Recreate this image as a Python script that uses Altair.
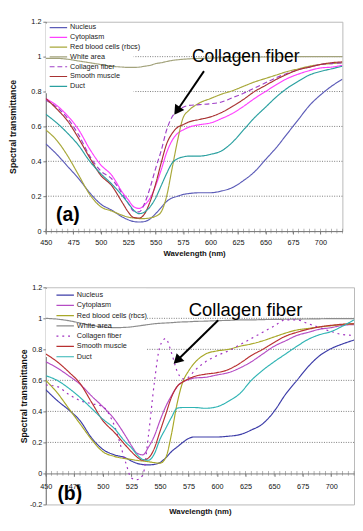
import math
import altair as alt
import pandas as pd

# ---------------- data ----------------
WL = [450, 460, 470, 480, 490, 500, 510, 520, 525, 530, 535, 540, 545, 550, 555,
      560, 565, 570, 575, 580, 590, 600, 610, 620, 630, 640, 650, 660, 670, 680,
      690, 700, 710, 720]

SERIES = ["Nucleus", "Cytoplasm", "Red blood cells (rbcs)", "White area",
          "Collagen fiber", "Smooth muscle", "Duct"]

# panel (a)
A_NUC = [0.50, 0.44, 0.37, 0.30, 0.22, 0.155, 0.12, 0.08,
         0.065, 0.055, 0.052, 0.055, 0.07, 0.10, 0.135, 0.17, 0.19, 0.20, 0.21, 0.215,
         0.22, 0.22, 0.23, 0.25, 0.29, 0.34, 0.41, 0.48, 0.56, 0.64, 0.72, 0.78, 0.83, 0.87]
A_CYT = [0.76, 0.72, 0.66, 0.58, 0.47, 0.38, 0.32, 0.22,
         0.18, 0.14, 0.13, 0.15, 0.19, 0.26, 0.35, 0.45, 0.52, 0.56, 0.58, 0.595,
         0.61, 0.62, 0.645, 0.675, 0.715, 0.76, 0.80, 0.84, 0.875, 0.90, 0.92, 0.935, 0.94, 0.95]
A_RBC = [0.58, 0.52, 0.43, 0.32, 0.21, 0.14, 0.115, 0.09,
         0.08, 0.075, 0.072, 0.072, 0.076, 0.085, 0.11, 0.20, 0.36, 0.52, 0.65, 0.69,
         0.735, 0.76, 0.785, 0.805, 0.83, 0.855, 0.875, 0.895, 0.915, 0.93, 0.945, 0.955, 0.96, 0.965]
A_WHITE = [0.99, 0.99, 0.985, 0.975, 0.965, 0.955, 0.945, 0.94,
           0.938, 0.938, 0.94, 0.945, 0.95, 0.96, 0.965, 0.972, 0.978, 0.982, 0.985, 0.987,
           0.99, 0.992, 0.994, 0.995, 0.996, 0.997, 0.998, 0.998, 0.999, 1.0, 1.0, 1.0, 1.0, 1.0]
A_COL = [0.75, 0.71, 0.645, 0.55, 0.43, 0.345, 0.30, 0.21,
         0.16, 0.115, 0.11, 0.16, 0.25, 0.36, 0.46, 0.58, 0.655, 0.69, 0.71, 0.72,
         0.725, 0.73, 0.74, 0.765, 0.79, 0.82, 0.85, 0.88, 0.905, 0.925, 0.94, 0.955, 0.96, 0.965]
A_SMO = [0.76, 0.70, 0.63, 0.53, 0.42, 0.32, 0.26, 0.16,
         0.11, 0.078, 0.075, 0.10, 0.17, 0.27, 0.39, 0.50, 0.56, 0.595, 0.61, 0.625,
         0.64, 0.655, 0.68, 0.715, 0.755, 0.80, 0.835, 0.87, 0.90, 0.925, 0.94, 0.955, 0.965, 0.97]
A_DUCT = [0.67, 0.62, 0.56, 0.49, 0.40, 0.33, 0.27, 0.20,
          0.16, 0.12, 0.10, 0.11, 0.14, 0.19, 0.26, 0.33, 0.39, 0.415, 0.425, 0.43,
          0.43, 0.44, 0.46, 0.51, 0.58, 0.65, 0.71, 0.77, 0.82, 0.86, 0.895, 0.915, 0.93, 0.945]

# panel (b)
B_NUC = [0.54, 0.47, 0.41, 0.34, 0.23, 0.155, 0.12, 0.10,
         0.08, 0.065, 0.057, 0.055, 0.058, 0.07, 0.10, 0.14, 0.17, 0.20, 0.225, 0.235,
         0.235, 0.235, 0.24, 0.25, 0.28, 0.32, 0.40, 0.51, 0.60, 0.69, 0.76, 0.805, 0.835, 0.86]
B_CYT = [0.72, 0.68, 0.63, 0.575, 0.50, 0.43, 0.35, 0.24,
         0.18, 0.13, 0.12, 0.17, 0.24, 0.34, 0.43, 0.50, 0.56, 0.59, 0.605, 0.615,
         0.62, 0.635, 0.65, 0.68, 0.72, 0.77, 0.82, 0.855, 0.89, 0.91, 0.93, 0.94, 0.955, 0.96]
B_RBC = [0.60, 0.52, 0.42, 0.32, 0.22, 0.14, 0.11, 0.095,
         0.09, 0.084, 0.08, 0.075, 0.07, 0.066, 0.10, 0.25, 0.45, 0.59, 0.66, 0.71,
         0.77, 0.79, 0.80, 0.82, 0.835, 0.855, 0.88, 0.905, 0.925, 0.935, 0.945, 0.952, 0.96, 0.965]
B_WHITE = [1.0, 0.995, 0.985, 0.97, 0.955, 0.945, 0.94, 0.942,
           0.945, 0.95, 0.955, 0.96, 0.965, 0.968, 0.97, 0.972, 0.975, 0.977, 0.978, 0.98,
           0.982, 0.985, 0.987, 0.99, 0.99, 0.992, 0.993, 0.994, 0.995, 0.996, 0.997, 0.998, 0.998, 0.998]
B_COL = [0.57, 0.56, 0.51, 0.47, 0.45, 0.43, 0.31, 0.07,
         -0.03, -0.04, -0.01, 0.25, 0.58, 0.82, 0.87, 0.78, 0.66, 0.61, 0.62, 0.66,
         0.72, 0.76, 0.79, 0.83, 0.87, 0.91, 0.95, 0.99, 0.99, 0.965, 0.94, 0.915, 0.895, 0.89]
B_SMO = [0.77, 0.72, 0.655, 0.58, 0.46, 0.34, 0.265, 0.18,
         0.14, 0.105, 0.085, 0.10, 0.16, 0.27, 0.38, 0.49, 0.56, 0.59, 0.61, 0.625,
         0.64, 0.65, 0.67, 0.71, 0.76, 0.80, 0.845, 0.885, 0.91, 0.93, 0.945, 0.955, 0.962, 0.965]
B_DUCT = [0.63, 0.60, 0.55, 0.49, 0.42, 0.35, 0.29, 0.20,
          0.165, 0.12, 0.09, 0.085, 0.125, 0.22, 0.29, 0.36, 0.42, 0.425, 0.425, 0.425,
          0.42, 0.43, 0.465, 0.515, 0.60, 0.665, 0.72, 0.77, 0.82, 0.865, 0.895, 0.915, 0.95, 0.99]

X_LABELS = [450, 475, 500, 525, 550, 575, 600, 625, 650, 675, 700]
X_MINOR = list(range(450, 721, 5))
Y_TICKS_A = [0, 0.2, 0.4, 0.6, 0.8, 1, 1.2]
Y_TICKS_B = [-0.2, 0, 0.2, 0.4, 0.6, 0.8, 1, 1.2]
GRID_A = [0.2, 0.4, 0.6, 0.8, 1.0]
GRID_B = [0.2, 0.4, 0.6, 0.8, 1.0]

ANNOT_TEXT = ["Collagen fiber"]
ANNOT_A = ([632], [0.972])          # wavelength, transmittance of the label
ANNOT_B = ([625], [1.016])
ARROW_A = (594, 0.917, 567, 0.667)  # tail wl, tail t, tip wl, tip t
ARROW_B = (601, 0.988, 562, 0.707)
TAG_A = (["(a)"], [470], [0.089])
TAG_B = (["(b)"], [471], [-0.132])
LEGEND_BOX_A = (450, 530, 0.79, 1.19)
LEGEND_BOX_B = (450, 538, 0.75, 1.19)

COLORS_A = ["#5c5cb8", "#ff40ff", "#a8a83a", "#a3a37c", "#a040c8", "#a83232", "#2aa0a0"]
COLORS_B = ["#3c3ca8", "#b54cc4", "#a8a828", "#8c8c8c", "#a030c0", "#b83030", "#30b4b4"]
DASH_A = [[1, 0], [1, 0], [1, 0], [1, 0], [5, 3], [1, 0], [1, 0]]
DASH_B = [[1, 0], [1, 0], [1, 0], [1, 0], [2, 4], [1, 0], [1, 0]]
WIDTH_A = [1.2, 1.2, 1.2, 1.2, 1.3, 1.2, 1.2]
WIDTH_B = [1.2, 1.2, 1.2, 1.2, 2.0, 1.2, 1.2]

FONT = "Liberation Sans"


def long_df(series_values):
    rows = []
    for name, vals in zip(SERIES, series_values):
        for w, v in zip(WL, vals):
            rows.append({"wl": w, "t": v, "series": name})
    return pd.DataFrame(rows)


def panel(values, colors, dashes, widths, W, H, ydom, yticks, grid, legend_xy,
          row_pad, ytitle_pad, ylabel_pad, x_offset, x_label_pad, x_title_kw,
          annot, arrow, tag, box, annot_size):
    xmin, xmax = 450, 720
    xs = alt.Scale(domain=[xmin, xmax], nice=False, zero=False)
    ys = alt.Scale(domain=ydom, nice=False, zero=False)
    xaxis = alt.Axis(values=X_LABELS, labelOverlap=False, labelFlush=False, tickSize=3,
                     labelFontSize=7.5, labelPadding=x_label_pad, title="Wavelength (nm)",
                     titleFontSize=8, titleFontWeight="bold", grid=False, offset=x_offset,
                     **x_title_kw)
    yaxis = alt.Axis(values=yticks, labelExpr="'' + datum.value", labelOverlap=False,
                     labelFlush=False, tickSize=3, labelFontSize=7.5, labelPadding=ylabel_pad,
                     title="Spectral transmittance", titleFontSize=9, titleFontWeight="bold",
                     titlePadding=ytitle_pad, grid=False)
    leg = dict(title=None, orient="none", legendX=legend_xy[0], legendY=legend_xy[1],
               symbolType="stroke", symbolSize=324, symbolStrokeWidth=1.5, labelFontSize=7.5,
               labelFont=FONT, labelColor="#222", labelOffset=2, rowPadding=row_pad,
               clipHeight=8, padding=0, labelLimit=200)

    def X(f="wl"):
        return alt.X(f + ":Q", scale=xs, axis=xaxis)

    def Y(f="t"):
        return alt.Y(f + ":Q", scale=ys, axis=yaxis)

    df = long_df(values)
    lines = alt.Chart(df).mark_line(interpolate="monotone", clip=True).encode(
        x=X(), y=Y(),
        color=alt.Color("series:N", scale=alt.Scale(domain=SERIES, range=colors),
                        legend=alt.Legend(**leg)),
        strokeDash=alt.StrokeDash("series:N", scale=alt.Scale(domain=SERIES, range=dashes),
                                  legend=alt.Legend(**leg)),
        strokeWidth=alt.StrokeWidth("series:N", scale=alt.Scale(domain=SERIES, range=widths),
                                    legend=None),
        order=alt.Order("wl:Q"),
    )

    grid_layer = alt.Chart(pd.DataFrame({"t": grid})).mark_rule(
        strokeDash=[1, 1.5], color="#555", strokeWidth=0.8).encode(y=Y())

    minor = alt.Chart(pd.DataFrame({"wl": X_MINOR, "t": [0] * len(X_MINOR)})).mark_tick(
        orient="vertical", size=5, thickness=0.8, color="#777").encode(x=X(), y=Y())

    box_layer = alt.Chart(pd.DataFrame({"wl": [box[0]], "wl2": [box[1]],
                                        "t": [box[2]], "t2": [box[3]]})).mark_rect(
        color="white").encode(x=X(), x2="wl2:Q", y=Y(), y2="t2:Q")

    text_layer = alt.Chart(pd.DataFrame({"wl": annot[0], "t": annot[1], "txt": ANNOT_TEXT})).mark_text(
        font=FONT, fontSize=annot_size, align="center", baseline="alphabetic", color="black"
    ).encode(x=X(), y=Y(), text="txt:N")

    tag_layer = alt.Chart(pd.DataFrame({"txt": tag[0], "wl": tag[1], "t": tag[2]})).mark_text(
        font=FONT, fontSize=20, fontWeight="bold", align="center", baseline="middle", color="black"
    ).encode(x=X(), y=Y(), text="txt:N")

    # arrow: shaft + triangular head, geometry derived from data and scales
    pxnm = W / (xmax - xmin)
    pxt = H / (ydom[1] - ydom[0])
    tw, tt, hw, ht = arrow
    dx = (hw - tw) * pxnm
    dy = -(ht - tt) * pxt
    L = math.hypot(dx, dy)
    ux, uy = dx / L, dy / L
    head_size = 130
    h = 0.433 * math.sqrt(head_size)
    cw = hw - ux * h / pxnm
    ct = ht + uy * h / pxt
    angle = (math.degrees(math.atan2(dx, -dy)) + 360) % 360

    shaft = alt.Chart(pd.DataFrame({"wl": [tw], "t": [tt], "wl2": [cw], "t2": [ct]})).mark_rule(
        strokeWidth=2, color="black").encode(x=X(), y=Y(), x2="wl2:Q", y2="t2:Q")
    head = alt.Chart(pd.DataFrame({"wl": [cw], "t": [ct]})).mark_point(
        shape="triangle-up", filled=True, size=head_size, angle=angle, color="black", opacity=1
    ).encode(x=X(), y=Y())

    return alt.layer(grid_layer, box_layer, lines, minor, text_layer, tag_layer, shaft, head).properties(
        width=W, height=H)


HA, WA = 216, 306
HB, WB = 224, 318
YDOM_A = [0, 1.2]
YDOM_B = [-0.2, 1.2]
x_off_b = -(0 - YDOM_B[0]) / (YDOM_B[1] - YDOM_B[0]) * HB

top = panel([A_NUC, A_CYT, A_RBC, A_WHITE, A_COL, A_SMO, A_DUCT], COLORS_A, DASH_A, WIDTH_A,
            WA, HA, YDOM_A, Y_TICKS_A, GRID_A, (3, 2), 2.1, 14, 2, 0, 5,
            dict(titlePadding=4), ANNOT_A, ARROW_A, TAG_A, LEGEND_BOX_A, 18)
bottom = panel([B_NUC, B_CYT, B_RBC, B_WHITE, B_COL, B_SMO, B_DUCT], COLORS_B, DASH_B, WIDTH_B,
               WB, HB, YDOM_B, Y_TICKS_B, GRID_B, (10, 4), 2.6, 1, 1, x_off_b, 7,
               dict(titleY=35), ANNOT_B, ARROW_B, TAG_B, LEGEND_BOX_B, 19)

chart = alt.concat(top, bottom, columns=1, spacing=25, align="none").resolve_scale(
    color="independent", strokeDash="independent", strokeWidth="independent"
).properties(
    padding={"left": 0, "top": 1, "right": 0, "bottom": 0},
    background="white",
).configure_view(stroke="#b8b8b8", strokeWidth=1).configure_axis(
    labelFont=FONT, titleFont=FONT, labelColor="#111", titleColor="#111",
    domainColor="#777", tickColor="#777",
)

chart.save("out.html", embed_options={"renderer": "svg", "actions": False})
